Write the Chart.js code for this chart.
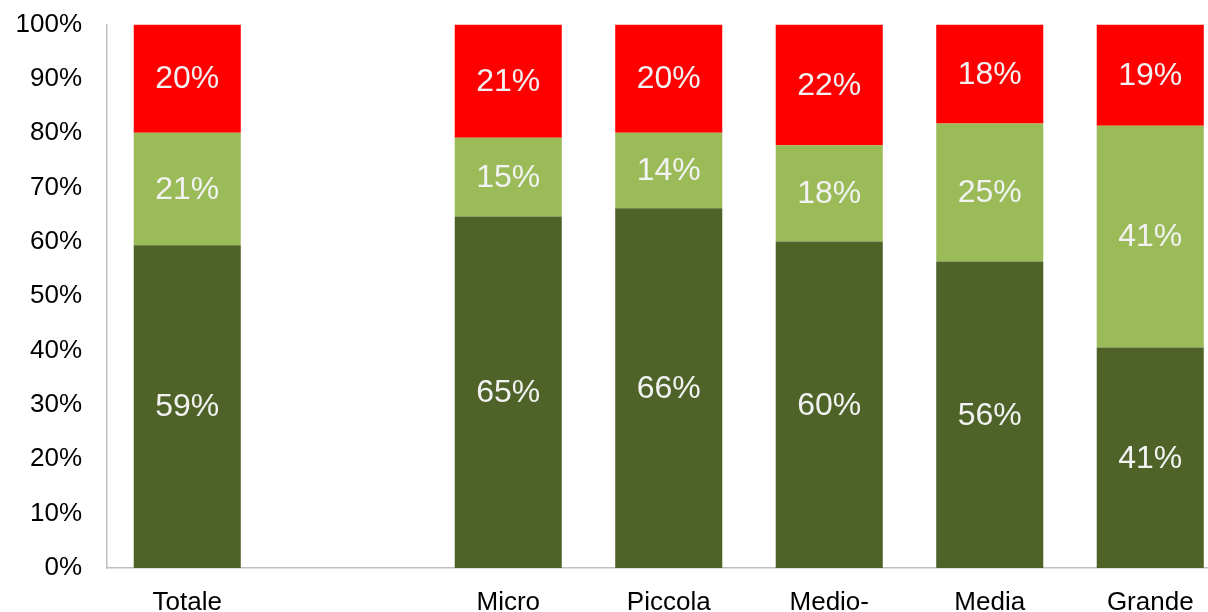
<!DOCTYPE html>
<html>
<head>
<meta charset="utf-8">
<script src="https://cdn.jsdelivr.net/npm/chart.js@4/dist/chart.umd.min.js"></script>
<style>
  html, body { margin: 0; padding: 0; background: #fff; overflow: hidden; }
  #wrap { width: 1208px; height: 612px; overflow: hidden; }
  #quota { display: block; margin-top: -8px; }
</style>
</head>
<body>
<div id="wrap">
  <canvas id="quota" width="1232" height="660"></canvas>
</div>
<script>
// categorie (la seconda colonna è vuota)
var categorie = ['Totale', '', 'Micro', 'Piccola', ['Medio-', 'piccola'], 'Media', 'Grande'];

// valori in percentuale
var serieScura = [59.4, null, 64.7, 66.2, 60.1, 56.4, 40.6];
var serieChiara = [20.7, null, 14.5, 13.9, 17.7, 25.4, 40.8];
var serieRossa = [19.9, null, 20.8, 19.9, 22.2, 18.2, 18.6];

var tickY = [0, 10, 20, 30, 40, 50, 60, 70, 80, 90, 100];

// etichette al centro di ogni segmento
var etichettePlugin = {
  id: 'etichette',
  afterDatasetsDraw: function (chart) {
    var ctx = chart.ctx;
    ctx.save();
    ctx.font = '32px "Liberation Sans", Arial, sans-serif';
    ctx.fillStyle = '#f2f2f2';
    ctx.textAlign = 'center';
    ctx.textBaseline = 'middle';
    chart.data.datasets.forEach(function (ds, i) {
      var meta = chart.getDatasetMeta(i);
      meta.data.forEach(function (bar, j) {
        var v = ds.data[j];
        if (v === null || v === undefined) return;
        ctx.fillText(Math.round(v) + '%', bar.x, (bar.y + bar.base) / 2 + 1);
      });
    });
    ctx.restore();
  }
};

var ctx = document.getElementById('quota').getContext('2d');
var myChart = new Chart(ctx, {
  type: 'bar',
  data: {
    labels: categorie,
    datasets: [
      { label: 'scura', data: serieScura, backgroundColor: '#4f6228' },
      { label: 'chiara', data: serieChiara, backgroundColor: '#9bbb59' },
      { label: 'rossa', data: serieRossa, backgroundColor: '#ff0000' }
    ]
  },
  options: {
    responsive: false,
    animation: false,
    layout: { padding: { top: 7, right: 1.5, left: 0, bottom: 0 } },
    datasets: {
      bar: { barPercentage: 0.667, categoryPercentage: 1 }
    },
    plugins: {
      legend: { display: false },
      tooltip: { enabled: false }
    },
    scales: {
      x: {
        stacked: true,
        grid: { display: false },
        border: { display: true, color: '#bfbfbf', width: 1.5 },
        ticks: {
          color: '#000',
          padding: 11,
          maxRotation: 0,
          autoSkip: false,
          font: { family: '"Liberation Sans", Arial, sans-serif', size: 26 }
        },
        afterFit: function (scale) { scale.height = 84; }
      },
      y: {
        stacked: true,
        min: 0,
        max: 100,
        grid: { display: false },
        border: { display: true, color: '#bfbfbf', width: 1.5 },
        afterBuildTicks: function (scale) {
          scale.ticks = tickY.map(function (v) { return { value: v }; });
        },
        ticks: {
          color: '#000',
          padding: 17,
          font: { family: '"Liberation Sans", Arial, sans-serif', size: 26 },
          callback: function (v) { return v + '%'; }
        },
        afterFit: function (scale) { scale.width = 107; }
      }
    }
  },
  plugins: [etichettePlugin]
});
</script>
</body>
</html>
